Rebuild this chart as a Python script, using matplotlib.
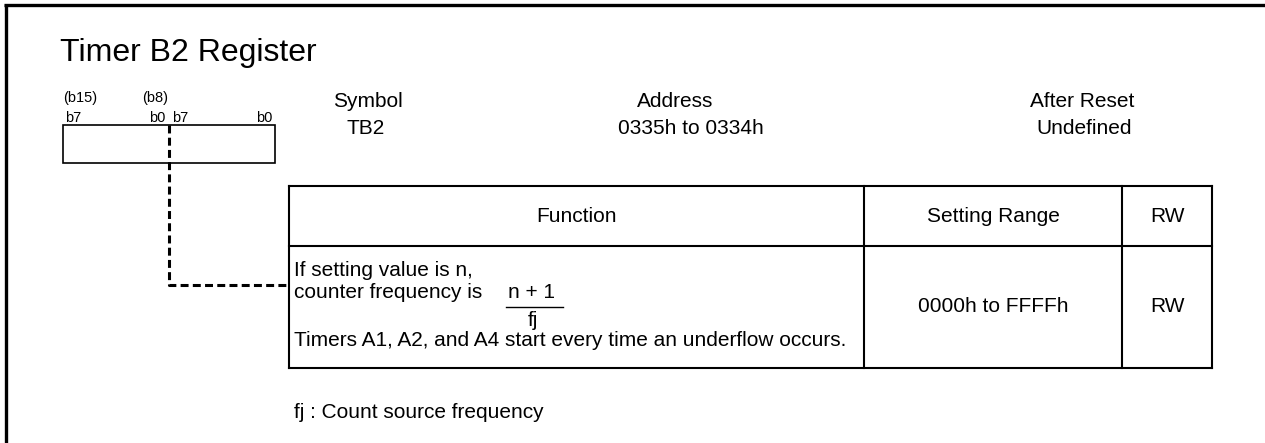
"""Timer B2 register diagram, drawn in pixel coordinates on one full-figure axes."""
import matplotlib

matplotlib.use("Agg")
import matplotlib.pyplot as plt  # noqa: E402
from matplotlib.patches import Rectangle  # noqa: E402

plt.rcParams["font.family"] = ["Liberation Sans", "DejaVu Sans"]

TITLE = "Timer B2 Register"
BIT_GROUPS = ["(b15)", "(b8)"]
BIT_LABELS = ["b7", "b0", "b7", "b0"]
INFO_HEADERS = ["Symbol", "Address", "After Reset"]
INFO_VALUES = ["TB2", "0335h to 0334h", "Undefined"]
TABLE_HEADERS = ["Function", "Setting Range", "RW"]
FUNCTION_LINES = [
    "If setting value is n,",
    "counter frequency is",
    "Timers A1, A2, and A4 start every time an underflow occurs.",
]
FRACTION = ("n + 1", "fj")
SETTING_RANGE = "0000h to FFFFh"
RW = "RW"
FOOTNOTE = "fj : Count source frequency"

W, H = 1265, 443
fig = plt.figure(figsize=(W / 100, H / 100), dpi=100)
ax = fig.add_axes([0, 0, 1, 1])
ax.set_xlim(0, W)
ax.set_ylim(H, 0)
ax.axis("off")

BODY = 15
SMALL = 10.5

# frame (left + top only, the rest is cut off)
ax.plot([5.5, 5.5], [4, H], color="black", lw=2.4, solid_capstyle="butt")
ax.plot([4, W], [5, 5], color="black", lw=2.4, solid_capstyle="butt")

ax.text(60, 53, TITLE, fontsize=23, va="center", ha="left")

# register box
ax.add_patch(Rectangle((63, 125), 212, 38, fill=False, lw=1.2, ec="black"))
ax.text(63, 98, BIT_GROUPS[0], fontsize=SMALL, va="center", ha="left")
ax.text(142, 98, BIT_GROUPS[1], fontsize=SMALL, va="center", ha="left")
for x, ha, lab in zip([65, 165, 172, 272], ["left", "right", "left", "right"], BIT_LABELS):
    ax.text(x, 118, lab, fontsize=SMALL, va="center", ha=ha)

# dashed leader to the table
ax.plot([168.5, 168.5, 289], [125, 285, 285], color="black", lw=2.2,
        linestyle=(0, (2.6, 1.4)), dash_capstyle="butt")

# symbol / address / reset info
for x, head, val in zip([368, 675, 1082], INFO_HEADERS, INFO_VALUES):
    ax.text(x, 101, head, fontsize=BODY, va="center", ha="center")
for x, val in zip([366, 691, 1084], INFO_VALUES):
    ax.text(x, 129, val, fontsize=BODY, va="center", ha="center")

# table
cols = [289, 864, 1122, 1212]
rows = [186, 246, 368]
for x in cols:
    ax.plot([x, x], [rows[0], rows[-1]], color="black", lw=1.5)
for y in rows:
    ax.plot([cols[0], cols[-1]], [y, y], color="black", lw=1.5)

for i, head in enumerate(TABLE_HEADERS):
    ax.text((cols[i] + cols[i + 1]) / 2, 216, head, fontsize=BODY,
            va="center", ha="center")

ax.text(294, 270, FUNCTION_LINES[0], fontsize=BODY, va="center", ha="left")
ax.text(294, 293, FUNCTION_LINES[1], fontsize=BODY, va="center", ha="left")
ax.text(294, 341, FUNCTION_LINES[2], fontsize=BODY, va="center", ha="left")
ax.text(532, 293, FRACTION[0], fontsize=BODY, va="center", ha="center")
ax.plot([506, 563], [307, 307], color="black", lw=1.0)
ax.text(533, 320, FRACTION[1], fontsize=BODY, va="center", ha="center")

ax.text((cols[1] + cols[2]) / 2, 307, SETTING_RANGE, fontsize=BODY,
        va="center", ha="center")
ax.text((cols[2] + cols[3]) / 2, 307, RW, fontsize=BODY, va="center", ha="center")

ax.text(294, 412, FOOTNOTE, fontsize=BODY, va="center", ha="left")

fig.savefig("out.png", dpi=100)
